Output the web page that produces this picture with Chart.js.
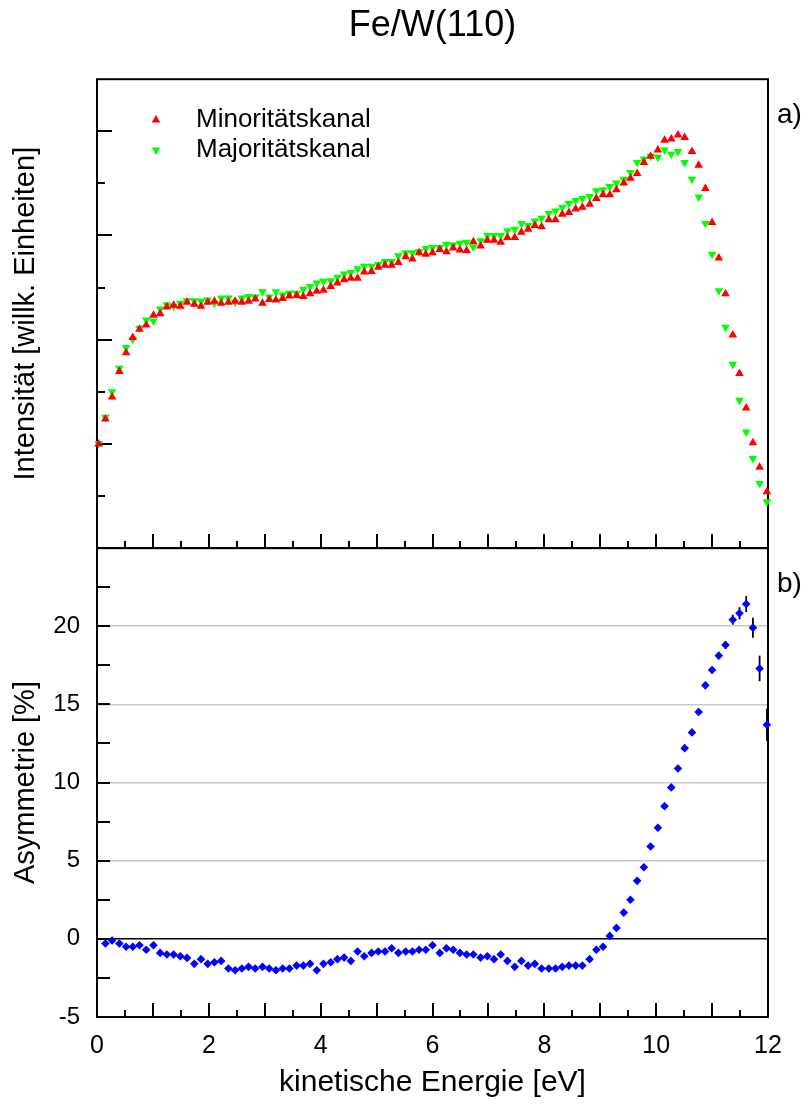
<!DOCTYPE html>
<html>
<head>
<meta charset="utf-8">
<title>Fe/W(110)</title>
<script src="https://cdn.jsdelivr.net/npm/chart.js@4.4.0/dist/chart.umd.min.js"></script>
<style>
  html, body { margin: 0; padding: 0; background: #ffffff; }
  #wrap { position: relative; width: 808px; height: 1106px; }
  canvas { display: block; }
</style>
</head>
<body>
<div id="wrap"><canvas id="chart" width="808" height="1106"></canvas></div>
<script>
// Kinetic energy of each measured point [eV]
const energies = [
  0.03, 0.15, 0.27, 0.40, 0.52, 0.64, 0.76, 0.88, 1.01, 1.13,
  1.25, 1.37, 1.49, 1.61, 1.74, 1.86, 1.98, 2.10, 2.22, 2.35,
  2.47, 2.59, 2.71, 2.83, 2.96, 3.08, 3.20, 3.32, 3.44, 3.57,
  3.69, 3.81, 3.93, 4.05, 4.18, 4.30, 4.42, 4.54, 4.66, 4.78,
  4.91, 5.03, 5.15, 5.27, 5.39, 5.52, 5.64, 5.76, 5.88, 6.00,
  6.13, 6.25, 6.37, 6.49, 6.61, 6.73, 6.86, 6.98, 7.10, 7.22,
  7.34, 7.47, 7.59, 7.71, 7.83, 7.95, 8.08, 8.20, 8.32, 8.44,
  8.56, 8.68, 8.81, 8.93, 9.05, 9.17, 9.29, 9.42, 9.54, 9.66,
  9.78, 9.90, 10.03, 10.15, 10.27, 10.39, 10.51, 10.64, 10.76, 10.88,
  11.00, 11.12, 11.24, 11.37, 11.49, 11.61, 11.73, 11.85, 11.98
];

// Spin-resolved intensities [arb. units]
const minority = [
  2.00, 2.48, 2.90, 3.39, 3.75, 4.04, 4.20, 4.28, 4.47, 4.50,
  4.63, 4.66, 4.64, 4.72, 4.68, 4.64, 4.72, 4.74, 4.70, 4.72,
  4.74, 4.72, 4.74, 4.78, 4.70, 4.77, 4.76, 4.79, 4.84, 4.85,
  4.83, 4.88, 4.93, 4.95, 5.02, 5.09, 5.15, 5.18, 5.18, 5.30,
  5.31, 5.39, 5.43, 5.43, 5.48, 5.59, 5.55, 5.67, 5.64, 5.67,
  5.73, 5.69, 5.76, 5.72, 5.71, 5.88, 5.80, 5.91, 5.91, 5.87,
  5.96, 5.96, 6.06, 6.12, 6.19, 6.17, 6.30, 6.30, 6.41, 6.44,
  6.51, 6.54, 6.60, 6.71, 6.78, 6.78, 6.88, 7.01, 7.10, 7.19,
  7.40, 7.52, 7.64, 7.83, 7.85, 7.93, 7.88, 7.61, 7.35, 6.90,
  6.25, 5.57, 4.88, 4.09, 3.35, 2.69, 2.02, 1.55, 1.08
];
const majority = [
  2.01, 2.51, 3.00, 3.45, 3.85, 4.01, 4.22, 4.38, 4.36, 4.59,
  4.67, 4.64, 4.70, 4.75, 4.75, 4.74, 4.76, 4.70, 4.80, 4.80,
  4.72, 4.80, 4.83, 4.82, 4.92, 4.82, 4.92, 4.86, 4.89, 4.89,
  4.97, 5.02, 5.09, 5.12, 5.13, 5.20, 5.26, 5.29, 5.36, 5.41,
  5.41, 5.45, 5.50, 5.50, 5.61, 5.67, 5.67, 5.69, 5.75, 5.77,
  5.77, 5.83, 5.82, 5.85, 5.87, 5.78, 5.90, 6.00, 6.00, 6.00,
  6.09, 6.12, 6.23, 6.19, 6.28, 6.33, 6.42, 6.47, 6.54, 6.62,
  6.67, 6.71, 6.75, 6.86, 6.88, 6.94, 7.01, 7.08, 7.21, 7.40,
  7.47, 7.52, 7.50, 7.64, 7.56, 7.61, 7.40, 7.08, 6.74, 6.23,
  5.64, 4.94, 4.24, 3.53, 2.84, 2.23, 1.72, 1.24, 0.89
];

// Spin asymmetry [%] for the points from the second energy on, with errors
const asymmetry = [
  -0.30, -0.11, -0.30, -0.51, -0.51, -0.41, -0.70, -0.41, -0.90, -1.00,
  -1.00, -1.11, -1.22, -1.60, -1.30, -1.60, -1.50, -1.41, -1.90, -2.01,
  -1.90, -1.79, -1.90, -1.79, -1.90, -2.01, -1.90, -1.90, -1.71, -1.71,
  -1.60, -2.01, -1.60, -1.50, -1.30, -1.20, -1.41, -0.81, -1.11, -0.90,
  -0.81, -0.81, -0.60, -0.90, -0.81, -0.81, -0.70, -0.70, -0.41, -0.90,
  -0.60, -0.70, -0.90, -1.00, -1.00, -1.20, -1.11, -1.30, -1.00, -1.41,
  -1.79, -1.41, -1.71, -1.60, -1.90, -1.90, -1.90, -1.79, -1.71, -1.71,
  -1.71, -1.30, -0.70, -0.51, 0.19, 0.70, 1.68, 2.50, 3.71, 4.58,
  5.91, 7.11, 8.49, 9.69, 10.90, 12.20, 13.21, 14.51, 16.22, 17.20,
  18.12, 18.80, 20.42, 20.83, 21.42, 19.91, 17.30, 13.70
];
const asymmetryError = [
  0.10, 0.10, 0.10, 0.10, 0.10, 0.10, 0.10, 0.10, 0.10, 0.10,
  0.10, 0.10, 0.10, 0.10, 0.10, 0.10, 0.10, 0.10, 0.10, 0.10,
  0.10, 0.10, 0.10, 0.10, 0.10, 0.10, 0.10, 0.10, 0.10, 0.10,
  0.10, 0.10, 0.10, 0.10, 0.10, 0.10, 0.10, 0.10, 0.10, 0.10,
  0.10, 0.10, 0.10, 0.10, 0.10, 0.10, 0.10, 0.10, 0.10, 0.10,
  0.10, 0.10, 0.10, 0.10, 0.10, 0.10, 0.10, 0.10, 0.10, 0.10,
  0.10, 0.10, 0.10, 0.10, 0.10, 0.10, 0.10, 0.10, 0.10, 0.11,
  0.11, 0.11, 0.11, 0.11, 0.12, 0.12, 0.12, 0.12, 0.13, 0.13,
  0.13, 0.14, 0.14, 0.15, 0.15, 0.16, 0.17, 0.18, 0.19, 0.20,
  0.22, 0.25, 0.32, 0.39, 0.51, 0.64, 0.82, 1.03
];

// Axis tick labels
const energyTickLabels = [0, 2, 4, 6, 8, 10, 12];
const asymmetryTickLabels = [-5, 0, 5, 10, 15, 20];
const asymmetryGridValues = [-5, 0, 5, 10, 15, 20, 25];

const FONT = "'Liberation Sans', Arial, Helvetica, sans-serif";
Chart.defaults.font.family = FONT;
Chart.defaults.color = '#000000';

const toPoints = (xs, ys) => ys.map((y, i) => ({ x: xs[i], y: y }));
const asymmetryEnergies = energies.slice(1);

// Draws a point symbol with Chart.js' own helper when it is exposed
function drawSymbol(ctx, style, radius, rotation, color, x, y) {
  ctx.save();
  ctx.fillStyle = color;
  if (Chart.helpers && Chart.helpers.drawPoint) {
    Chart.helpers.drawPoint(ctx, { pointStyle: style, radius: radius, rotation: rotation, borderWidth: 0 }, x, y);
  } else {
    const rad = rotation * Math.PI / 180;
    ctx.beginPath();
    for (let k = 0; k < 3; k++) {
      const a = rad + k * 2 * Math.PI / 3;
      ctx.lineTo(x + Math.sin(a) * radius, y - Math.cos(a) * radius);
    }
    ctx.closePath();
    ctx.fill();
  }
  ctx.restore();
}

// Panel frames, inward tick marks, error bars, legend and panel letters
const panelDecor = {
  id: 'panelDecor',
  beforeDatasetsDraw(chart) {
    const ctx = chart.ctx;
    const area = chart.chartArea;
    const x = chart.scales.x, yTop = chart.scales.yTop, yBot = chart.scales.yBot;
    ctx.save();
    ctx.strokeStyle = '#000000';
    ctx.lineWidth = 2;
    ctx.lineCap = 'butt';

    const line = (x1, y1, x2, y2) => { ctx.beginPath(); ctx.moveTo(x1, y1); ctx.lineTo(x2, y2); ctx.stroke(); };

    // energy ticks on the lower edge of both panels
    for (let v = 0; v <= 12.001; v += 0.5) {
      const px = Math.round(x.getPixelForValue(v));
      const len = Math.abs(v - Math.round(v)) < 1e-6 ? 14 : 7;
      line(px, yTop.bottom, px, yTop.bottom - len);
      line(px, yBot.bottom, px, yBot.bottom - len);
    }
    // intensity ticks
    for (let v = 1; v <= 8; v++) {
      const py = Math.round(yTop.getPixelForValue(v));
      line(area.left, py, area.left + (v % 2 === 0 ? 15 : 8), py);
    }
    // asymmetry ticks
    for (let v = -2.5; v <= 22.5 + 1e-6; v += 2.5) {
      const py = Math.round(yBot.getPixelForValue(v));
      line(area.left, py, area.left + 13, py);
    }
    // frames
    ctx.strokeRect(area.left, yTop.top, area.right - area.left, yTop.bottom - yTop.top);
    ctx.strokeRect(area.left, yBot.top, area.right - area.left, yBot.bottom - yBot.top);

    // error bars of the asymmetry
    ctx.lineWidth = 1.8;
    asymmetry.forEach((a, i) => {
      const px = x.getPixelForValue(asymmetryEnergies[i]);
      const e = asymmetryError[i];
      line(px, yBot.getPixelForValue(a - e), px, yBot.getPixelForValue(a + e));
    });
    ctx.restore();
  },
  afterDatasetsDraw(chart) {
    const ctx = chart.ctx;
    const ds = chart.data.datasets;
    ctx.save();
    // legend
    const entries = [
      { d: ds[0], y: 120 },
      { d: ds[1], y: 150 }
    ];
    entries.forEach(en => {
      drawSymbol(ctx, en.d.pointStyle, en.d.pointRadius, en.d.pointRotation || 0, en.d.backgroundColor, 156, en.y);
      ctx.fillStyle = '#000000';
      ctx.font = '26px ' + FONT;
      ctx.textAlign = 'left';
      ctx.textBaseline = 'middle';
      ctx.fillText(en.d.label, 196, en.y);
    });
    // panel letters
    ctx.font = '28px ' + FONT;
    ctx.textBaseline = 'alphabetic';
    ctx.fillText('a)', 777, 123);
    ctx.fillText('b)', 777, 592);
    ctx.restore();
  }
};

new Chart(document.getElementById('chart'), {
  type: 'scatter',
  data: {
    datasets: [
      {
        label: 'Minoritätskanal',
        data: toPoints(energies, minority),
        yAxisID: 'yTop',
        pointStyle: 'triangle',
        pointRadius: 5,
        pointRotation: 0,
        backgroundColor: '#ff0000',
        borderWidth: 0,
        clip: false
      },
      {
        label: 'Majoritätskanal',
        data: toPoints(energies, majority),
        yAxisID: 'yTop',
        pointStyle: 'triangle',
        pointRadius: 5,
        pointRotation: 180,
        backgroundColor: '#00ff00',
        borderWidth: 0,
        clip: false
      },
      {
        label: 'Asymmetrie',
        data: toPoints(asymmetryEnergies, asymmetry),
        yAxisID: 'yBot',
        pointStyle: 'rectRot',
        pointRadius: 4.3,
        backgroundColor: '#0000ff',
        borderWidth: 0,
        clip: false
      }
    ]
  },
  options: {
    responsive: false,
    animation: false,
    devicePixelRatio: 1,
    events: [],
    layout: { padding: { left: 0, right: 40, top: 0, bottom: 0 } },
    plugins: {
      legend: { display: false },
      tooltip: { enabled: false },
      title: {
        display: true,
        fullSize: false,
        text: 'Fe/W(110)',
        color: '#000000',
        font: { size: 36, weight: 'normal' },
        padding: { top: 4, bottom: 32 }
      }
    },
    scales: {
      x: {
        type: 'linear',
        min: 0,
        max: 12,
        afterBuildTicks: s => { s.ticks = energyTickLabels.map(v => ({ value: v })); },
        afterFit: s => { s.height = 89; },
        grid: { display: false, drawTicks: false },
        border: { display: false },
        ticks: { font: { size: 25 }, padding: 14, color: '#000000', maxRotation: 0 },
        title: {
          display: true,
          text: 'kinetische Energie [eV]',
          font: { size: 30 },
          color: '#000000',
          padding: { top: 0, bottom: 5 }
        }
      },
      yTop: {
        type: 'linear',
        position: 'left',
        stack: 'panels',
        stackWeight: 1,
        weight: 2,
        min: 0,
        max: 9,
        afterFit: s => { s.width = 97; },
        ticks: { display: false },
        grid: { display: false, drawTicks: false },
        border: { display: false },
        title: {
          display: true,
          text: 'Intensität [willk. Einheiten]',
          font: { size: 29 },
          color: '#000000',
          padding: { top: 9, bottom: 0 }
        }
      },
      yBot: {
        type: 'linear',
        position: 'left',
        stack: 'panels',
        stackWeight: 1,
        weight: 1,
        min: -5,
        max: 25,
        afterBuildTicks: s => { s.ticks = asymmetryGridValues.map(v => ({ value: v })); },
        afterFit: s => { s.width = 97; },
        ticks: {
          font: { size: 24 },
          padding: 17,
          color: '#000000',
          callback: v => (asymmetryTickLabels.includes(v) ? String(v) : '')
        },
        grid: {
          drawTicks: false,
          lineWidth: 1.5,
          color: c => {
            const v = c.tick ? c.tick.value : null;
            if (v === 0) return '#000000';
            if (v === -5 || v === 25) return 'rgba(0,0,0,0)';
            return '#c8c8c8';
          }
        },
        border: { display: false },
        title: {
          display: true,
          text: 'Asymmetrie [%]',
          font: { size: 29 },
          color: '#000000',
          padding: { top: 9, bottom: 0 }
        }
      }
    }
  },
  plugins: [panelDecor]
});
</script>
</body>
</html>
